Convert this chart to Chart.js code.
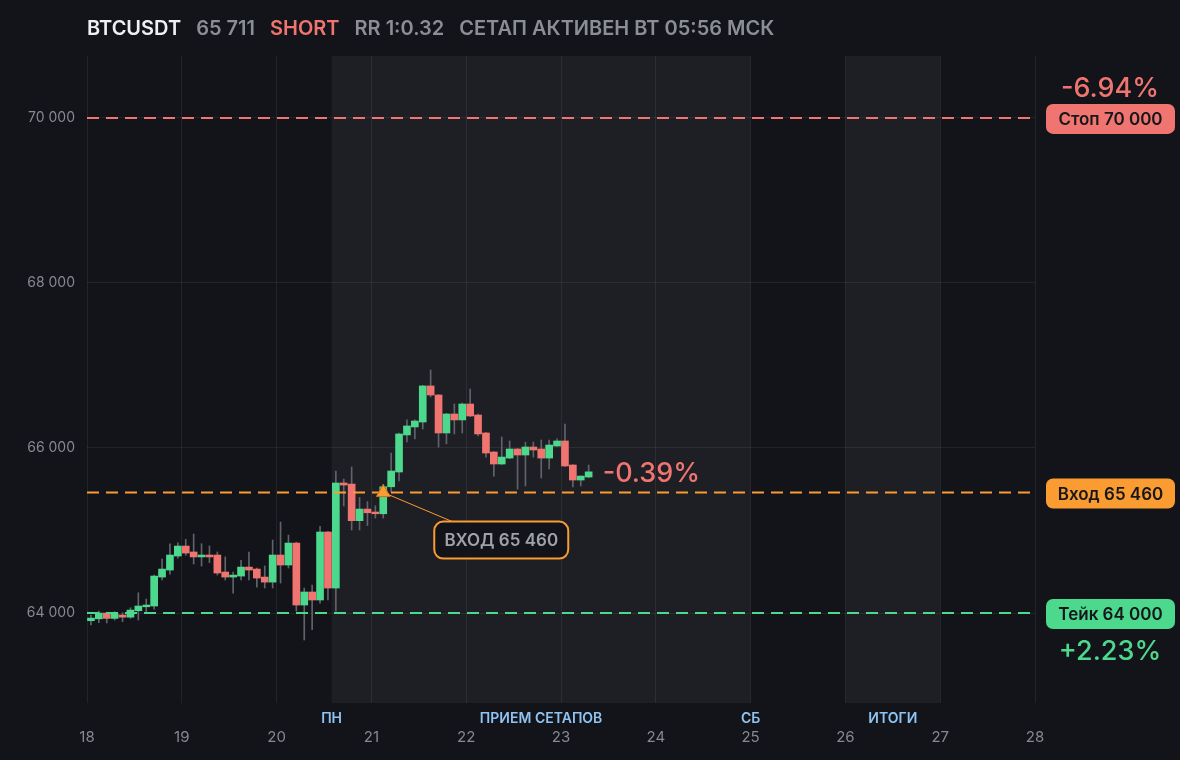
<!DOCTYPE html>
<html>
<head>
<meta charset="utf-8">
<style>
  html, body { margin: 0; padding: 0; background: #131419; }
  #wrap { position: relative; width: 1180px; height: 760px; }
  #title {
    position: absolute; left: 87px; top: 16px;
    display: flex; gap: 15px;
    font-family: Inter, "Noto Sans", sans-serif; font-weight: 600; font-size: 20px;
    color: #8b8e96; white-space: nowrap;
  }
  #title .sym { color: #eef0f3; }
  #title .side { color: #f07570; }
  canvas { position: absolute; left: 0; top: 0; }
</style>
</head>
<body>
<div id="wrap">
  <canvas id="chart" width="1180" height="760"></canvas>
  <div id="title">
    <span class="sym">BTCUSDT</span>
    <span>65 711</span>
    <span class="side">SHORT</span>
    <span>RR 1:0.32</span>
    <span>СЕТАП АКТИВЕН ВТ 05:56 МСК</span>
  </div>
</div>
<script src="https://cdn.jsdelivr.net/npm/chart.js@4.4.1/dist/chart.umd.min.js"></script>
<script>
// ——— BTCUSDT 2h candles, 18th 00:00 → 23rd 08:00 ———
const opens  = [63907, 63930, 64000, 63935, 63976, 63950, 64028, 64076, 64085, 64436, 64521, 64691, 64812, 64740, 64680, 64703,
                64703, 64497, 64436, 64448, 64557, 64533, 64436, 64375, 64703, 64582, 64848, 64097, 64255, 64158, 64982, 64303,
                65576, 65563, 65119, 65260, 65224, 65203, 65530, 65709, 66158, 66255, 66315, 66752, 66642, 66182, 66412, 66340,
                66533, 66400, 66182, 65951, 65806, 65878, 65988, 65915, 66012, 65988, 65878, 66024, 66085, 65794, 65612, 65648];
const highs  = [63976, 64024, 64010, 64016, 64004, 64064, 64246, 64170, 64460, 64654, 64840, 64852, 64893, 64957, 64840, 64813,
                64740, 64680, 64497, 64640, 64740, 64545, 64570, 64885, 65103, 64945, 64860, 64303, 64340, 65050, 64990, 65721,
                65624, 65770, 65400, 65350, 65300, 65560, 65939, 66180, 66340, 66340, 66760, 66945, 66650, 66420, 66533, 66545,
                66715, 66410, 66190, 65960, 66133, 66085, 65995, 66070, 66073, 66097, 66097, 66110, 66290, 65800, 65660, 65794];
const lows   = [63855, 63883, 63880, 63915, 63895, 63936, 63915, 64000, 64048, 64400, 64472, 64666, 64700, 64594, 64570, 64610,
                64460, 64400, 64242, 64400, 64400, 64315, 64303, 64303, 64363, 64545, 64024, 63673, 63800, 64120, 64158, 64024,
                65297, 65006, 65006, 65060, 65150, 65150, 65470, 65600, 66073, 66110, 66230, 66618, 66012, 66050, 66170, 66182,
                66380, 66145, 65890, 65660, 65800, 65870, 65503, 65540, 65890, 65636, 65745, 66020, 65775, 65527, 65540, 65640];
const closes = [63939, 64000, 63935, 63990, 63950, 64036, 64085, 64097, 64448, 64533, 64703, 64812, 64727, 64680, 64703, 64680,
                64485, 64436, 64460, 64557, 64521, 64424, 64375, 64703, 64582, 64848, 64097, 64255, 64158, 64982, 64303, 65576,
                65551, 65119, 65260, 65215, 65203, 65530, 65721, 66170, 66267, 66327, 66752, 66642, 66182, 66412, 66340, 66533,
                66388, 66170, 65939, 65806, 65890, 65988, 65915, 66012, 65976, 65878, 66036, 66085, 65782, 65612, 65660, 65711];

// candle time in days of month (2h bars, centred)
const times = opens.map((_, i) => 18 + (2 * i + 1) / 24);

const STOP = 70000;
const ENTRY = 65460;
const TAKE = 64000;
const ENTRY_TIME = 21.125;

const xTicks = [18, 19, 20, 21, 22, 23, 24, 25, 26, 27, 28];
const yTicks = [64000, 66000, 68000, 70000];

// session bands and their captions
const bandStarts = [20.58, 26];
const bandEnds = [25, 27];
const bandLabels = ["ПН", "ПРИЕМ СЕТАПОВ", "СБ", "ИТОГИ"];
const bandLabelAt = [20.58, 22.79, 25, 26.5];

const levelNames = ["Стоп 70 000", "Вход 65 460", "Тейк 64 000"];
const stopPct = "-6.94%";
const takePct = "+2.23%";
const livePct = "-0.39%";
const entryNote = "ВХОД 65 460";

const GREEN = "#4cd98d";
const RED = "#f07570";
const ORANGE = "#fa9c32";
const WICK = "#60636b";
const BG = "#131419";

function fmt(v) {
  return String(v).replace(/\B(?=(\d{3})+(?!\d))/g, " ");
}

function roundRect(ctx, x, y, w, h, r) {
  ctx.beginPath();
  ctx.moveTo(x + r, y);
  ctx.arcTo(x + w, y, x + w, y + h, r);
  ctx.arcTo(x + w, y + h, x, y + h, r);
  ctx.arcTo(x, y + h, x, y, r);
  ctx.arcTo(x, y, x + w, y, r);
  ctx.closePath();
}

const bandsPlugin = {
  id: "bands",
  beforeDraw(chart) {
    const { ctx, chartArea: a, scales: { x } } = chart;
    ctx.save();
    ctx.fillStyle = BG;
    ctx.fillRect(0, 0, chart.width, chart.height);
    ctx.fillStyle = "#1e1f24";
    bandStarts.forEach((s, i) => {
      const x0 = x.getPixelForValue(s);
      const x1 = x.getPixelForValue(bandEnds[i]);
      ctx.fillRect(x0, a.top, x1 - x0, a.bottom - a.top);
    });
    ctx.restore();
  },
  afterDraw(chart) {
    const { ctx, chartArea: a, scales: { x, y } } = chart;
    ctx.save();

    // band captions
    ctx.font = "600 14px Inter";
    ctx.fillStyle = "#8fc3f2";
    ctx.textAlign = "center";
    ctx.textBaseline = "middle";
    bandLabels.forEach((t, i) => ctx.fillText(t, x.getPixelForValue(bandLabelAt[i]), a.bottom + 16));

    // right side level pills
    const levels = [STOP, ENTRY, TAKE];
    const colors = [RED, ORANGE, GREEN];
    levels.forEach((v, i) => {
      const py = y.getPixelForValue(v);
      ctx.fillStyle = colors[i];
      roundRect(ctx, 1046, py - 14, 129, 30, 7);
      ctx.fill();
      ctx.fillStyle = "#16171b";
      ctx.font = "600 17px Inter";
      ctx.fillText(levelNames[i], 1110.5, py + 2);
    });
    ctx.font = "500 27px Inter";
    ctx.fillStyle = RED;
    ctx.fillText(stopPct, 1110, y.getPixelForValue(STOP) - 29);
    ctx.fillStyle = GREEN;
    ctx.fillText(takePct, 1110, y.getPixelForValue(TAKE) + 39);

    // live result next to last candle
    const last = closes.length - 1;
    ctx.textAlign = "left";
    ctx.fillStyle = RED;
    ctx.fillText(livePct, x.getPixelForValue(times[last]) + 14, y.getPixelForValue(closes[last]) + 2);

    // entry callout
    const ex = x.getPixelForValue(ENTRY_TIME);
    const ey = y.getPixelForValue(ENTRY);
    const bx = ex + 51, by = ey + 29;
    ctx.strokeStyle = ORANGE;
    ctx.lineWidth = 1;
    ctx.beginPath();
    ctx.moveTo(ex + 5, ey + 2);
    ctx.lineTo(bx + 18, by);
    ctx.stroke();
    roundRect(ctx, bx, by, 134, 37, 9);
    ctx.fillStyle = BG;
    ctx.fill();
    ctx.lineWidth = 2;
    ctx.stroke();
    ctx.fillStyle = "#9fa2a9";
    ctx.font = "600 17px Inter";
    ctx.textAlign = "center";
    ctx.fillText(entryNote, bx + 67, by + 19);
    ctx.restore();
  }
};

function levelLine(v, color) {
  return {
    type: "line",
    data: [{ x: xTicks[0], y: v }, { x: xTicks[xTicks.length - 1], y: v }],
    borderColor: color,
    borderWidth: 2,
    borderDash: [12, 7],
    pointRadius: 0,
    order: 1
  };
}

new Chart(document.getElementById("chart"), {
  type: "bar",
  data: {
    datasets: [
      {
        data: times.map((t, i) => ({ x: t, y: [opens[i], closes[i]] })),
        backgroundColor: closes.map((c, i) => (c >= opens[i] ? GREEN : RED)),
        barThickness: 7,
        grouped: false,
        order: 2
      },
      {
        data: times.map((t, i) => ({ x: t, y: [lows[i], highs[i]] })),
        backgroundColor: WICK,
        barThickness: 1,
        grouped: false,
        order: 3
      },
      levelLine(STOP, RED),
      levelLine(ENTRY, ORANGE),
      levelLine(TAKE, GREEN),
      {
        type: "scatter",
        data: [{ x: ENTRY_TIME, y: ENTRY }],
        pointStyle: "triangle",
        pointRadius: 8,
        backgroundColor: ORANGE,
        borderColor: "#c97414",
        borderWidth: 1,
        order: 0
      }
    ]
  },
  options: {
    responsive: false,
    animation: false,
    layout: { padding: { top: 56, right: 145, left: 0, bottom: 0 } },
    plugins: { legend: { display: false }, tooltip: { enabled: false } },
    scales: {
      x: {
        type: "linear",
        min: 18,
        max: 28,
        offset: false,
        afterBuildTicks(s) { s.ticks = xTicks.map(v => ({ value: v })); },
        afterFit(s) { s.height = 57; },
        grid: { color: "rgba(255,255,255,0.07)", drawTicks: false, offset: false },
        border: { display: false },
        ticks: { color: "#868991", font: { family: "Inter", size: 15 }, padding: 25, maxRotation: 0 }
      },
      y: {
        min: 62910,
        max: 70750,
        afterBuildTicks(s) { s.ticks = yTicks.map(v => ({ value: v })); },
        afterFit(s) { s.width = 87; },
        grid: { color: "rgba(255,255,255,0.07)", drawTicks: false },
        border: { display: false },
        ticks: { color: "#868991", font: { family: "Inter", size: 14 }, padding: 12, callback: v => fmt(v) }
      }
    }
  },
  plugins: [bandsPlugin]
});
</script>
</body>
</html>
